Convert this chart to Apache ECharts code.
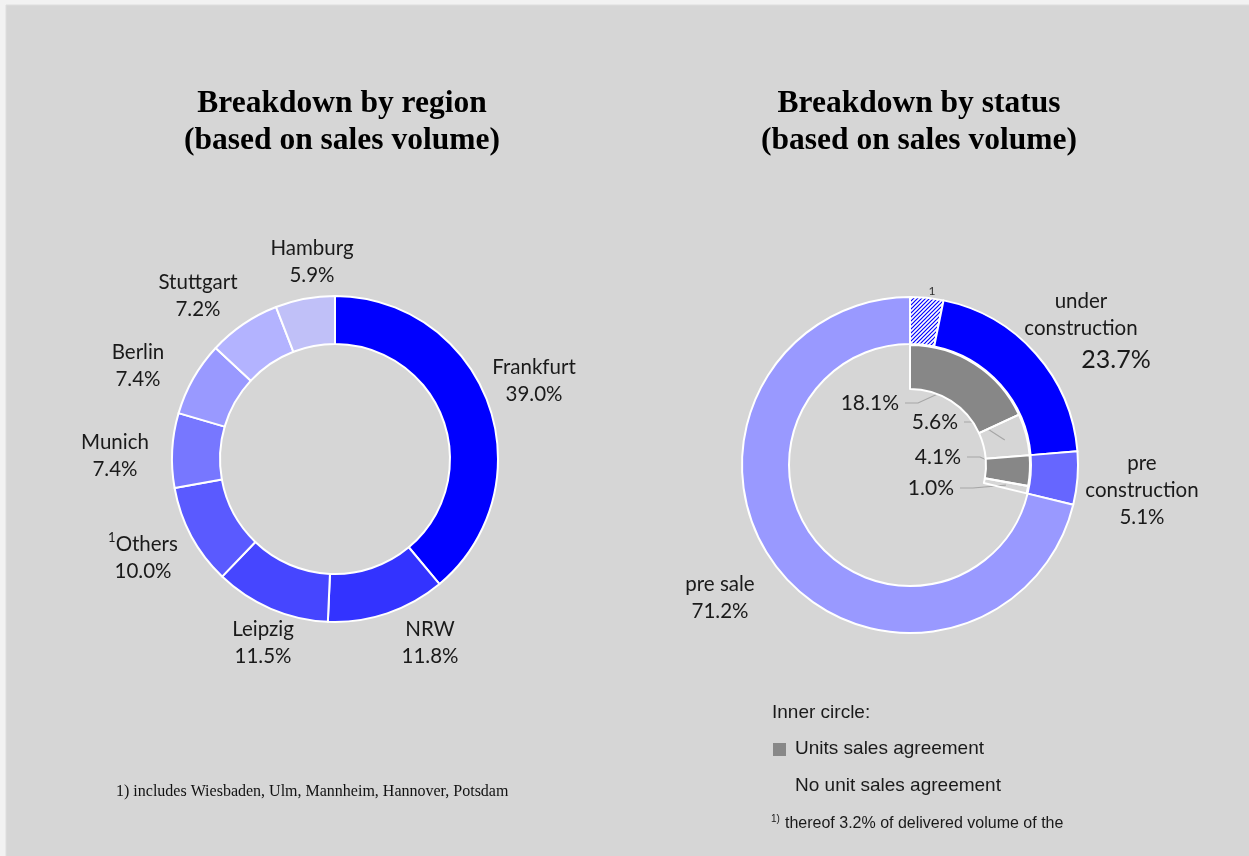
<!DOCTYPE html>
<html>
<head>
<meta charset="utf-8">
<script src="https://cdn.jsdelivr.net/npm/echarts@6/dist/echarts.min.js"></script>
<style>
html, body { margin: 0; padding: 0; background: #f2f2f2; }
#chart { width: 1249px; height: 856px; }
</style>
</head>
<body>
<div id="chart"></div>
<script>
// region donut
var regionNames = ['Frankfurt', 'NRW', 'Leipzig', 'Others', 'Munich', 'Berlin', 'Stuttgart', 'Hamburg'];
var regionValues = [39.0, 11.8, 11.5, 10.0, 7.4, 7.4, 7.2, 5.9];
var regionColors = ['#0000ff', '#3333ff', '#4646ff', '#5a5aff', '#7777ff', '#9999ff', '#b3b3ff', '#c0c0f8'];
// label centre positions (px)
var regionLabelPos = [[534, 381], [430, 643], [263, 643], [143, 558], [115, 456], [138, 366], [198, 296], [312, 262]];

// status donut (outer ring)
var statusNames = ['under construction', 'pre construction', 'pre sale'];
var statusValues = [23.7, 5.1, 71.2];
var statusColors = ['#0000ff', '#6666ff', '#9999ff'];
var deliveredValue = 3.2; // hatched part of under construction

// inner ring
var innerNames = ['uc agreement', 'uc no agreement', 'pc agreement', 'pc no agreement'];
var innerValues = [18.1, 5.6, 4.1, 1.0];
var innerAgreement = [true, false, true, false];
var innerLabelPos = [[899, 403], [958, 422], [961, 457], [954, 488]]; // right edge of text

var bgPanel = '#d6d6d6';
var labelFont = 'Lato';
var cL = [335, 459];
var cR = [910, 465];

function hatch() {
    var c = document.createElement('canvas');
    c.width = 4; c.height = 4;
    var g = c.getContext('2d');
    g.fillStyle = '#ffffff';
    g.fillRect(0, 0, 4, 4);
    g.strokeStyle = '#0000ff';
    g.lineWidth = 1.2;
    g.beginPath();
    g.moveTo(0, 4); g.lineTo(4, 0);
    g.moveTo(-1, 1); g.lineTo(1, -1);
    g.moveTo(3, 5); g.lineTo(5, 3);
    g.stroke();
    return { image: c, repeat: 'repeat' };
}

// outer data
var outerData = [{
    name: '1', value: deliveredValue,
    itemStyle: { color: hatch() },
    label: { show: true, formatter: '1', fontSize: 12, color: '#333' }
}];
statusNames.forEach(function (n, i) {
    var v = statusValues[i];
    if (i === 0) v = +(v - deliveredValue).toFixed(1);
    outerData.push({ name: n, value: v, pct: statusValues[i], itemStyle: { color: statusColors[i] } });
});
var outerLabelPos = { '1': [932, 291], 'under construction': [1081, 333], 'pre construction': [1142, 490], 'pre sale': [720, 598] };

// inner data
var innerTotal = statusValues.reduce(function (a, b) { return a + b; }, 0);
var innerData = innerNames.map(function (n, i) {
    return {
        name: n, value: innerValues[i],
        itemStyle: { color: innerAgreement[i] ? '#878787' : 'rgba(0,0,0,0)' }
    };
});
var innerRest = innerTotal - innerValues.reduce(function (a, b) { return a + b; }, 0);
innerData.push({
    name: 'rest', value: +innerRest.toFixed(1),
    itemStyle: { color: 'rgba(0,0,0,0)', borderWidth: 0 },
    label: { show: false }, labelLine: { show: false }, emphasis: { disabled: true }
});

var rIn = [76, 120];
function innerAnchor(i) {
    var cum = 0;
    for (var k = 0; k < i; k++) cum += innerValues[k];
    var a = (cum + innerValues[i] / 2) / innerTotal * Math.PI * 2;
    var rm = (rIn[0] + rIn[1]) / 2;
    return [cR[0] + rm * Math.sin(a), cR[1] - rm * Math.cos(a)];
}

var titleStyle = { fontFamily: 'Liberation Serif', fontWeight: 'bold', fontSize: 31.5, lineHeight: 37, color: '#000' };
var chart = echarts.init(document.getElementById('chart'));
chart.setOption({
    backgroundColor: '#f2f2f2',
    animation: false,
    title: [{
        text: 'Breakdown by region\n(based on sales volume)',
        left: 337, top: 80, textAlign: 'center', textStyle: titleStyle
    }, {
        text: 'Breakdown by status\n(based on sales volume)',
        left: 914, top: 80, textAlign: 'center', textStyle: titleStyle
    }],
    graphic: [
        { type: 'rect', z: -10, shape: { x: 6, y: 5, width: 1260, height: 870 }, style: { fill: bgPanel, stroke: '#dedede', lineWidth: 1 } },
        { type: 'text', left: 116, top: 784, style: { text: '1) includes Wiesbaden, Ulm, Mannheim, Hannover, Potsdam', font: '16px "Liberation Serif"', fill: '#111' } },
        { type: 'text', left: 772, top: 703, style: { text: 'Inner circle:', font: '19px "Liberation Sans"', fill: '#1a1a1a' } },
        { type: 'rect', shape: { x: 773, y: 743, width: 13, height: 13 }, style: { fill: '#888888' } },
        { type: 'text', left: 795, top: 739, style: { text: 'Units sales agreement', font: '19px "Liberation Sans"', fill: '#1a1a1a' } },
        { type: 'text', left: 795, top: 776, style: { text: 'No unit sales agreement', font: '19px "Liberation Sans"', fill: '#1a1a1a' } },
        { type: 'text', left: 771, top: 814, style: { text: '1)', font: '10px "Liberation Sans"', fill: '#1a1a1a' } },
        { type: 'text', left: 785, top: 816, style: { text: 'thereof 3.2% of delivered volume of the', font: '16px "Liberation Sans"', fill: '#1a1a1a' } }
    ],
    series: [{
        type: 'pie',
        center: cL,
        radius: [115, 163],
        startAngle: 90,
        clockwise: true,
        avoidLabelOverlap: false,
        itemStyle: { borderColor: '#ffffff', borderWidth: 2 },
        emphasis: { disabled: true },
        label: {
            show: true,
            position: 'outside',
            fontFamily: labelFont,
            fontSize: 20.5,
            lineHeight: 27,
            color: '#1a1a1a',
            align: 'center',
            formatter: function (p) {
                var n = p.name === 'Others' ? '{sup|1}' + p.name : p.name;
                return n + '\n' + p.value.toFixed(1) + '%';
            },
            rich: { sup: { fontFamily: labelFont, fontSize: 13, verticalAlign: 'top', lineHeight: 27, color: '#1a1a1a' } }
        },
        labelLine: { show: false },
        labelLayout: function (p) {
            var pos = regionLabelPos[p.dataIndex];
            return { x: pos[0], y: pos[1], align: 'center', verticalAlign: 'middle' };
        },
        data: regionNames.map(function (n, i) {
            return { name: n, value: regionValues[i], itemStyle: { color: regionColors[i] } };
        })
    }, {
        type: 'pie',
        center: cR,
        radius: [121, 168],
        startAngle: 90,
        clockwise: true,
        avoidLabelOverlap: false,
        itemStyle: { borderColor: '#ffffff', borderWidth: 2 },
        emphasis: { disabled: true },
        label: {
            show: true,
            position: 'outside',
            fontFamily: labelFont,
            fontSize: 20.5,
            lineHeight: 27,
            color: '#1a1a1a',
            align: 'center',
            formatter: function (p) {
                var pct = p.data.pct.toFixed(1) + '%';
                if (p.name === 'under construction') return 'under\nconstruction\n{big|' + pct + '}';
                if (p.name === 'pre construction') return 'pre\nconstruction\n' + pct;
                return p.name + '\n' + pct;
            },
            rich: { big: { fontFamily: labelFont, fontSize: 25, lineHeight: 36, padding: [0, 0, 0, 70], color: '#1a1a1a' } }
        },
        labelLine: { show: false },
        labelLayout: function (p) {
            var pos = outerLabelPos[outerData[p.dataIndex].name];
            return { x: pos[0], y: pos[1], align: 'center', verticalAlign: 'middle' };
        },
        data: outerData
    }, {
        type: 'pie',
        center: cR,
        radius: rIn,
        startAngle: 90,
        clockwise: true,
        avoidLabelOverlap: false,
        itemStyle: { borderColor: '#ffffff', borderWidth: 2 },
        emphasis: { disabled: true },
        label: {
            show: true,
            position: 'outside',
            fontFamily: labelFont,
            fontSize: 21,
            color: '#1a1a1a',
            formatter: function (p) { return p.value.toFixed(1) + '%'; }
        },
        labelLine: { show: true, lineStyle: { color: '#a6a6a6', width: 1.2 } },
        labelLayout: function (p) {
            if (p.dataIndex >= innerValues.length) return {};
            var pos = innerLabelPos[p.dataIndex];
            var an = innerAnchor(p.dataIndex);
            return {
                x: pos[0], y: pos[1], align: 'right', verticalAlign: 'middle',
                labelLinePoints: [[pos[0] + 6, pos[1]], [pos[0] + 19, pos[1]], an]
            };
        },
        data: innerData
    }]
});
</script>
</body>
</html>
